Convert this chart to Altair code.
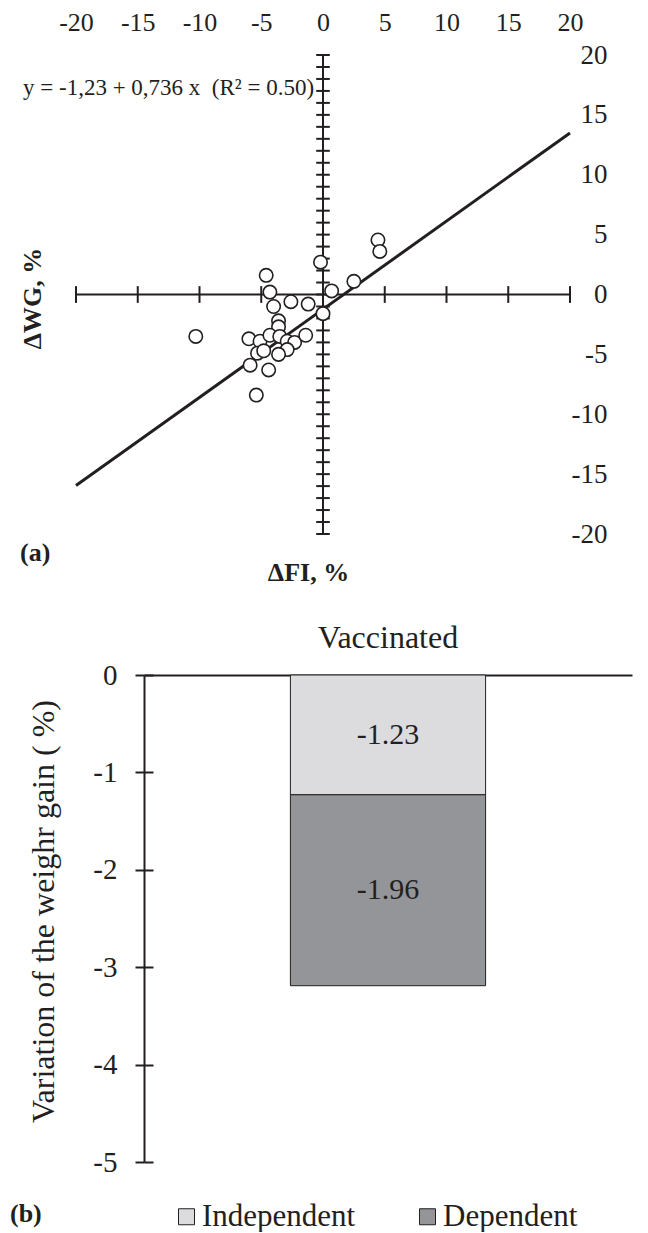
import altair as alt
import pandas as pd

# ---------------- Panel (a): scatter of changes ----------------
fi_change = [4.45, 4.6, -0.2, -4.6, -4.3, 0.7, 2.5, -2.6, -1.2, -4.0, 0.0, -3.6, -3.6,
             -10.3, -6.0, -5.1, -4.3, -3.5, -2.9, -2.3, -1.4, -5.3, -2.9, -3.6, -4.8,
             -5.9, -4.4, -5.4]
wg_change = [4.55, 3.6, 2.7, 1.6, 0.2, 0.3, 1.1, -0.6, -0.8, -1.0, -1.6, -2.2, -2.7,
             -3.5, -3.7, -3.9, -3.4, -3.5, -3.9, -4.0, -3.4, -4.9, -4.6, -5.0, -4.7,
             -5.9, -6.3, -8.4]
intercept = -1.23
slope = 0.736
fit_x = [-20, 20]
equation = "y = -1,23 + 0,736 x \u00a0(R\u00b2 = 0.50)"
major_ticks = [-20, -15, -10, -5, 0, 5, 10, 15, 20]
minor_ticks = list(range(-20, 21))
axis_limits = [-20, 20]

# ---------------- Panel (b): decomposition bar ----------------
group = "Vaccinated"
components = ["Independent", "Dependent"]
comp_values = [-1.23, -1.96]
comp_colors = ["#dcdcde", "#939598"]
bar_ticks = [0, -1, -2, -3, -4, -5]

FONT = "Liberation Serif"
INK = "#231f20"

# ---------- panel (a) ----------
xsc = alt.Scale(domain=[-25.506, 25.668], nice=False, zero=False)
ysc = alt.Scale(domain=[-24.676, 23.925], nice=False, zero=False)

xaxis_a = alt.Axis(orient="top", values=major_ticks, domain=False, ticks=False, grid=False,
                   labelFont=FONT, labelFontSize=26, labelColor=INK, labelPadding=12,
                   labelBaseline="middle", labelFlush=False, labelOverlap=False, offset=-26,
                   labelExpr="toString(datum.value)",
                   title="ΔFI, %", titleFont=FONT, titleFontSize=26, titleFontWeight="bold",
                   titleColor=INK, titleX=300, titleY=538, titleAlign="center",
                   titleBaseline="middle")
yaxis_a = alt.Axis(orient="right", values=major_ticks, domain=False, ticks=False, grid=False,
                   labelFont=FONT, labelFontSize=27, labelColor=INK, labelPadding=0,
                   labelAlign="right", labelFlush=False, labelOverlap=False, offset=-33,
                   labelExpr="toString(datum.value)",
                   title="ΔWG, %", titleFont=FONT, titleFontSize=26, titleFontWeight="bold",
                   titleColor=INK, titleX=-575, titleY=290, titleAngle=270,
                   titleAlign="center", titleBaseline="middle")

def X(f):
    return alt.X(f, scale=xsc, axis=xaxis_a)

def Y(f):
    return alt.Y(f, scale=ysc, axis=yaxis_a)

axes_df = pd.DataFrame({"x1": [axis_limits[0], 0], "x2": [axis_limits[1], 0],
                        "y1": [0, axis_limits[0]], "y2": [0, axis_limits[1]]})
axis_lines = alt.Chart(axes_df).mark_rule(color=INK, strokeWidth=2).encode(
    x=X("x1:Q"), x2="x2:Q", y=Y("y1:Q"), y2="y2:Q")

xt_df = pd.DataFrame({"t": major_ticks})
xt_df["lo"] = -0.7
xt_df["hi"] = 0.7
x_ticks = alt.Chart(xt_df).mark_rule(color=INK, strokeWidth=2).encode(
    x=X("t:Q"), y=Y("lo:Q"), y2="hi:Q")

yt_df = pd.DataFrame({"t": minor_ticks})
yt_df["lo"] = -0.55
yt_df["hi"] = 0.55
y_ticks = alt.Chart(yt_df).mark_rule(color=INK, strokeWidth=2).encode(
    y=Y("t:Q"), x=X("lo:Q"), x2="hi:Q")

fit_df = pd.DataFrame({"x": fit_x, "y": [intercept + slope * v for v in fit_x]})
fit_line = alt.Chart(fit_df).mark_line(color=INK, strokeWidth=3).encode(
    x=X("x:Q"), y=Y("y:Q"))

pts_df = pd.DataFrame({"fi": fi_change, "wg": wg_change})
points = alt.Chart(pts_df).mark_circle(color="white", opacity=1, stroke=INK,
                                         strokeWidth=1.6, size=180).encode(
    x=X("fi:Q"), y=Y("wg:Q"))

eq_text = alt.Chart(pd.DataFrame({"label": [equation]})).mark_text(
    font=FONT, fontSize=23, color=INK, align="left", baseline="middle").encode(
    text="label:N", x=alt.value(15), y=alt.value(80))

a_text = alt.Chart(pd.DataFrame({"label": ["(a)"]})).mark_text(
    font=FONT, fontSize=26, fontWeight="bold", color=INK, align="left",
    baseline="middle").encode(text="label:N", x=alt.value(12), y=alt.value(545))

panel_a = alt.layer(axis_lines, x_ticks, y_ticks, fit_line, points, eq_text, a_text).properties(
    width=632, height=582)

# ---------- panel (b) ----------
df_b = pd.DataFrame({"group": [group] * len(components), "component": components,
                     "value": comp_values, "order": list(range(len(components)))})
base_b = alt.Chart(df_b).transform_stack(
    stack="value", groupby=["group"], as_=["v0", "v1"], sort=[alt.SortField("order")]
).transform_calculate(mid="(datum.v0 + datum.v1) / 2", lbl="toString(datum.value)")

xsc_b = alt.Scale(domain=[group], range=[136, 624], paddingInner=0, paddingOuter=0.75)
ysc_b = alt.Scale(domain=[bar_ticks[-1], bar_ticks[0]], nice=False, zero=False)

xaxis_b = alt.Axis(orient="top", domain=True, domainColor=INK, domainWidth=2, ticks=False,
                   grid=False, labelFont=FONT, labelFontSize=32, labelColor=INK,
                   labelPadding=21, labelAngle=0, title=None)
yaxis_b = alt.Axis(orient="left", values=bar_ticks, offset=-136, domain=True, domainColor=INK,
                   domainWidth=2, ticks=True, tickColor=INK, tickWidth=2, tickSize=9,
                   grid=False, labelFont=FONT, labelFontSize=29, labelColor=INK,
                   labelPadding=18, labelFlush=False, labelExpr="toString(datum.value)",
                   title="Variation of the weighr gain ( %)", titleFont=FONT,
                   titleFontSize=32, titleFontWeight="normal", titleColor=INK,
                   titleX=-101, titleY=236, titleAngle=270, titleAlign="center",
                   titleBaseline="middle")
yaxis_b2 = alt.Axis(orient="right", values=bar_ticks, offset=-496, domain=False, labels=False,
                    ticks=True, tickColor=INK, tickWidth=2, tickSize=9, grid=False, title=None)

bars = base_b.mark_bar(stroke=INK, strokeWidth=1).encode(
    x=alt.X("group:N", scale=xsc_b, axis=xaxis_b),
    y=alt.Y("v0:Q", scale=ysc_b, axis=yaxis_b),
    y2="v1:Q",
    color=alt.Color("component:N", scale=alt.Scale(domain=components, range=comp_colors),
                    legend=alt.Legend(orient="none", legendX=163, legendY=1193,
                                      direction="horizontal", title=None, symbolType="square",
                                      symbolSize=256, symbolStrokeColor=INK,
                                      symbolStrokeWidth=1, symbolOpacity=1,
                                      labelFont=FONT, labelFontSize=31, labelColor=INK,
                                      labelOffset=0, columnPadding=56, padding=0)),
)
bar_labels = base_b.mark_text(font=FONT, fontSize=30, color=INK).encode(
    x=alt.X("group:N", scale=xsc_b, axis=xaxis_b),
    y=alt.Y("mid:Q", scale=ysc_b, axis=yaxis_b2),
    text="lbl:N",
)
b_text = alt.Chart(pd.DataFrame({"label": ["(b)"]})).mark_text(
    font=FONT, fontSize=26, fontWeight="bold", color=INK, align="left",
    baseline="middle").encode(text="label:N", x=alt.value(2), y=alt.value(539))

panel_b = alt.layer(bars, bar_labels, b_text).resolve_axis(y="independent").properties(
    width=632, height=487)

chart = alt.vconcat(panel_a, panel_b, spacing=31).properties(
    padding=0, background="white"
).configure_view(stroke=None)

chart.save("out.html", embed_options={"renderer": "svg", "actions": False})
